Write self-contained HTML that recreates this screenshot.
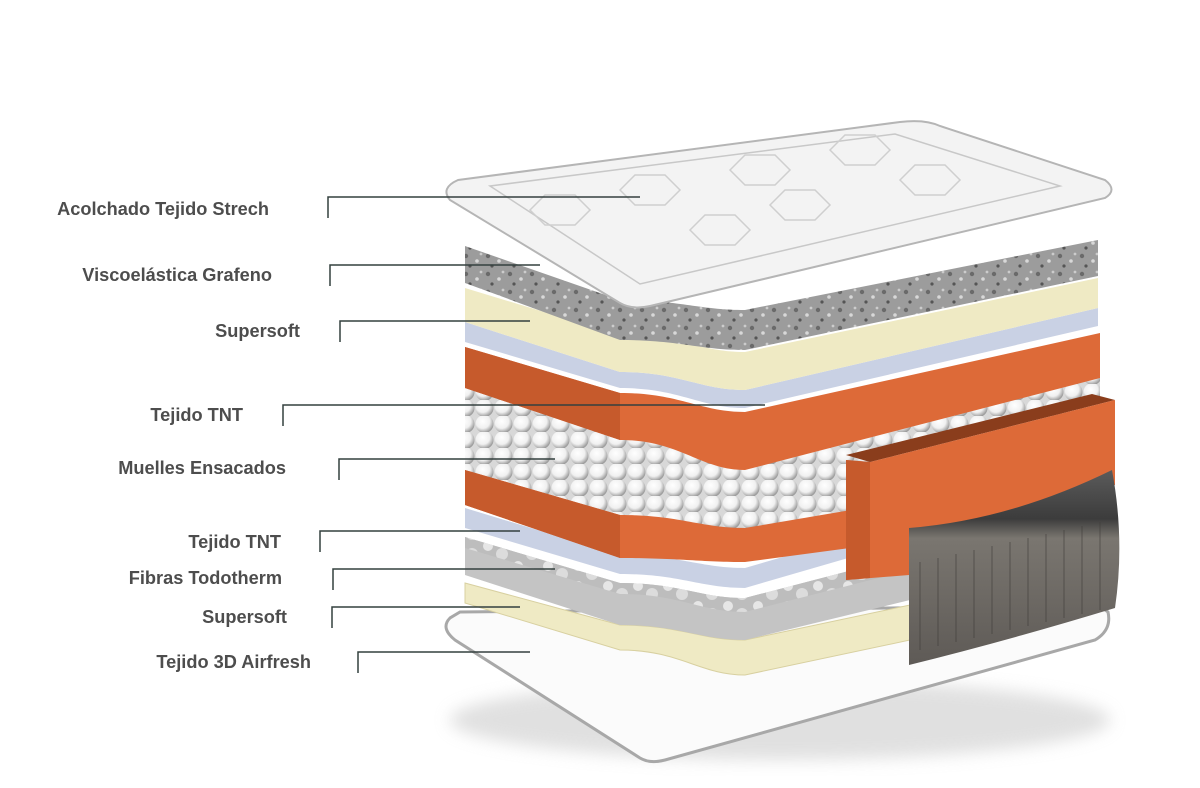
<!DOCTYPE html>
<html><head><meta charset="utf-8"><style>
html,body{margin:0;padding:0;background:#fff;}
svg{display:block}
text{font-family:"Liberation Sans",sans-serif;font-weight:bold;font-size:18.2px;fill:#4d4d4d}
</style></head><body>
<svg id="s" width="1200" height="788" viewBox="0 0 1200 788" xmlns="http://www.w3.org/2000/svg">
<defs>
<radialGradient id="ball" cx="40%" cy="35%" r="65%"><stop offset="0" stop-color="#fff"/><stop offset="0.6" stop-color="#f0f0f0"/><stop offset="1" stop-color="#9a9a9a"/></radialGradient>
<pattern id="spr" width="19" height="16" patternUnits="userSpaceOnUse"><rect width="19" height="16" fill="#d8d8d8"/><circle cx="9.5" cy="8" r="9" fill="url(#ball)"/></pattern>
<pattern id="dots" width="22" height="18" patternUnits="userSpaceOnUse"><rect width="22" height="18" fill="#9c9c9c"/><circle cx="4" cy="4" r="2.2" fill="#6a6a6a"/><circle cx="15" cy="9" r="1.8" fill="#d8d8d8"/><circle cx="8" cy="14" r="1.6" fill="#555"/><circle cx="19" cy="2" r="1.4" fill="#ccc"/></pattern>
<pattern id="fib" width="30" height="20" patternUnits="userSpaceOnUse"><rect width="30" height="20" fill="#bdbdbd"/><circle cx="8" cy="6" r="5" fill="#e6e6e6"/><circle cx="22" cy="14" r="6" fill="#dcdcdc"/></pattern>
<linearGradient id="panel" x1="0" y1="0" x2="0" y2="1"><stop offset="0" stop-color="#5b5b5b"/><stop offset="0.25" stop-color="#3c3c3c"/><stop offset="0.35" stop-color="#7a7670"/><stop offset="1" stop-color="#5e5a56"/></linearGradient>
<filter id="sh" x="-10%" y="-10%" width="120%" height="130%"><feGaussianBlur stdDeviation="8"/></filter>
</defs>
<g id="g"></g>
</svg>
<script>
const g=document.getElementById('g');const NS='http://www.w3.org/2000/svg';
function el(t,a){const e=document.createElementNS(NS,t);for(const k in a)e.setAttribute(k,a[k]);g.appendChild(e);return e;}
function lp(a,b,c,d,xd){xd=xd||1100;
return `M465,${a[0]} L620,${b[0]} C680,${b[0]} 700,${c[0]} 745,${c[0]} L${xd},${d[0]} L${xd},${d[1]} L745,${c[1]} C700,${c[1]} 680,${b[1]} 620,${b[1]} L465,${a[1]} Z`;}
el('ellipse',{cx:780,cy:720,rx:330,ry:40,fill:'#ccc',filter:'url(#sh)',opacity:.6});
el('path',{d:'M450,618 Q440,628 455,640 L640,758 Q650,764 665,760 L1095,640 Q1112,630 1108,612 L1100,606 L460,612 Z',fill:'#fbfbfb',stroke:'#a8a8a8','stroke-width':3});
el('path',{d:lp([583,603],[625,650],[640,675],[605,640],910),fill:'#efeac4',stroke:'#d8d0a0'});
el('path',{d:lp([537,575],[583,625],[598,640],[555,600],910),fill:'#c4c4c4'});
el('path',{d:lp([537,548],[583,594],[598,612],[555,570],910),fill:'url(#fib)'});
el('path',{d:lp([508,528],[555,574],[568,588],[520,540],910),fill:'#c9d1e4'});
el('path',{d:lp([385,475],[430,520],[462,535],[370,470],1100),fill:'url(#spr)'});
el('path',{d:lp([470,505],[515,558],[528,562],[500,540],910),fill:'#dd6a38'});
el('path',{d:'M465,470 L620,515 L620,558 L465,505 Z',fill:'#c65a2c'});
el('path',{d:lp([347,388],[393,440],[412,470],[333,378]),fill:'#dd6a38'});
el('path',{d:'M465,347 L620,393 L620,440 L465,388 Z',fill:'#c65a2c'});
el('path',{d:lp([322,342],[372,388],[390,408],[308,326],1098),fill:'#c9d1e4'});
el('path',{d:lp([288,322],[335,372],[352,390],[278,308],1098),fill:'#efeac4'});
el('path',{d:lp([246,283],[300,340],[310,350],[240,276],1098),fill:'url(#dots)'});
el('path',{d:'M846,455 L1092,394 L1115,400 L870,462 Z',fill:'#8a3d1c'});
el('path',{d:'M846,460 L870,462 L1115,400 L1115,485 L909,535 L909,575 L846,580 Z',fill:'#dd6a38'});
el('path',{d:'M846,460 L870,462 L870,578 L846,580 Z',fill:'#c65a2c'});
el('path',{d:'M909,528 Q1010,520 1112,470 Q1125,540 1115,608 Q1010,640 909,665 Z',fill:'url(#panel)'});
for(let i=0;i<11;i++){const x=920+i*18;el('line',{x1:x,y1:562-i*4,x2:x,y2:650-i*4,stroke:'#3e3b38','stroke-width':1,opacity:.6});}
el('path',{d:'M458,180 L900,122 Q925,119 940,126 L1105,180 Q1118,190 1105,198 L650,306 Q632,310 620,303 L450,200 Q440,188 458,180 Z',fill:'#f3f3f3',stroke:'#b5b5b5','stroke-width':2});
el('path',{d:'M490,186 L895,134 L1060,186 L640,284 Z',fill:'none',stroke:'#c8c8c8','stroke-width':1.5});
[[650,190],[760,170],[860,150],[930,180],[720,230],[560,210],[800,205]].forEach(([x,y])=>{el('path',{d:`M${x-30},${y} L${x-15},${y-15} L${x+15},${y-15} L${x+30},${y} L${x+15},${y+15} L${x-15},${y+15} Z`,fill:'none',stroke:'#cfcfcf','stroke-width':1.5});});
const L=[["Acolchado Tejido Strech",269,215,328,197,640],["Viscoelástica Grafeno",272,281,330,265,540],["Supersoft",300,337,340,321,530],["Tejido TNT",243,421,283,405,765],["Muelles Ensacados",286,474,339,459,555],["Tejido TNT",281,548,320,531,520],["Fibras Todotherm",282,584,333,569,555],["Supersoft",287,623,332,607,520],["Tejido 3D Airfresh",311,668,358,652,530]];
L.forEach(([t,tx,ty,lx,ly,ex])=>{const e=el('text',{x:tx,y:ty,'text-anchor':'end'});e.textContent=t;
el('path',{d:`M${lx},${ly+21} L${lx},${ly} L${ex},${ly}`,fill:'none',stroke:'#34403f','stroke-width':1.5});});
</script>
</body></html>
